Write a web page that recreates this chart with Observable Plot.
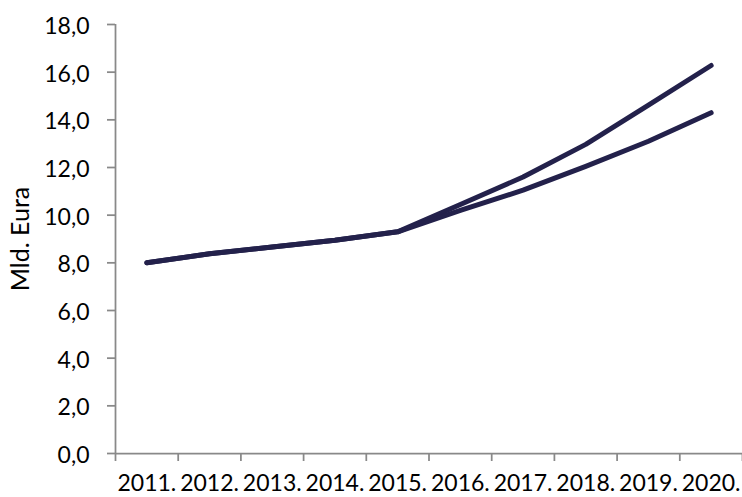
<!DOCTYPE html>
<html><head><meta charset="utf-8">
<script src="https://cdn.jsdelivr.net/npm/d3@7"></script>
<script src="https://cdn.jsdelivr.net/npm/@observablehq/plot@0.6"></script>
<style>body{margin:0;background:#fff;} #chart svg{display:block;}</style>
</head><body><div id="chart"></div>
<script>
const years = ["2011.","2012.","2013.","2014.","2015.","2016.","2017.","2018.","2019.","2020."];
const seriesHigh = [8.0, 8.38, 8.66, 8.95, 9.3, 10.45, 11.6, 12.97, 14.62, 16.28];
const seriesLow  = [8.0, 8.38, 8.66, 8.95, 9.3, 10.2, 11.05, 12.05, 13.1, 14.3];
const yTicks = [0, 2, 4, 6, 8, 10, 12, 14, 16, 18];
const yLabel = "Mld. Eura";

const data = [];
years.forEach((yr, i) => {
  data.push({i: i + 0.5, year: yr, value: seriesHigh[i], series: "A"});
  data.push({i: i + 0.5, year: yr, value: seriesLow[i], series: "B"});
});
const centers = years.map((_, i) => i + 0.5);
const bounds = d3.range(0, years.length + 1);
const fmt = d => d.toFixed(1).replace(".", ",");
const axisColor = "#898989";

const chart = Plot.plot({
  width: 742,
  height: 497,
  marginLeft: 115,
  marginRight: 0,
  marginTop: 24,
  marginBottom: 44,
  style: {fontFamily: "Lato", fontSize: "23px", color: "#000", background: "#fff"},
  x: {domain: [0, years.length]},
  y: {domain: [0, 18]},
  marks: [
    Plot.ruleX([0], {y1: 0, y2: 18, stroke: axisColor, strokeWidth: 1.75}),
    Plot.ruleY([0], {stroke: axisColor, strokeWidth: 1.75}),
    Plot.axisY({ticks: yTicks, tickSize: 8, tickFormat: () => "", stroke: axisColor, strokeWidth: 1.75, label: null}),
    Plot.axisY({ticks: yTicks, tickSize: 0, tickPadding: 26, tickFormat: fmt, color: "#000", fontSize: 23, dy: 2, label: null}),
    Plot.axisY({ticks: [], label: yLabel, labelAnchor: "center", labelOffset: 104, labelArrow: "none", fontSize: 25, color: "#000"}),
    Plot.axisX({ticks: bounds, tickSize: 8, tickFormat: () => "", stroke: axisColor, strokeWidth: 1.75, label: null}),
    Plot.axisX({ticks: centers, tickSize: 0, tickPadding: 21, fontSize: 23, tickFormat: d => years[Math.floor(d)], label: null}),
    Plot.line(data, {x: "i", y: "value", z: "series", stroke: "#23214b", strokeWidth: 5, strokeLinecap: "round", strokeLinejoin: "round"})
  ]
});
document.getElementById("chart").append(chart);
</script>
</body></html>
